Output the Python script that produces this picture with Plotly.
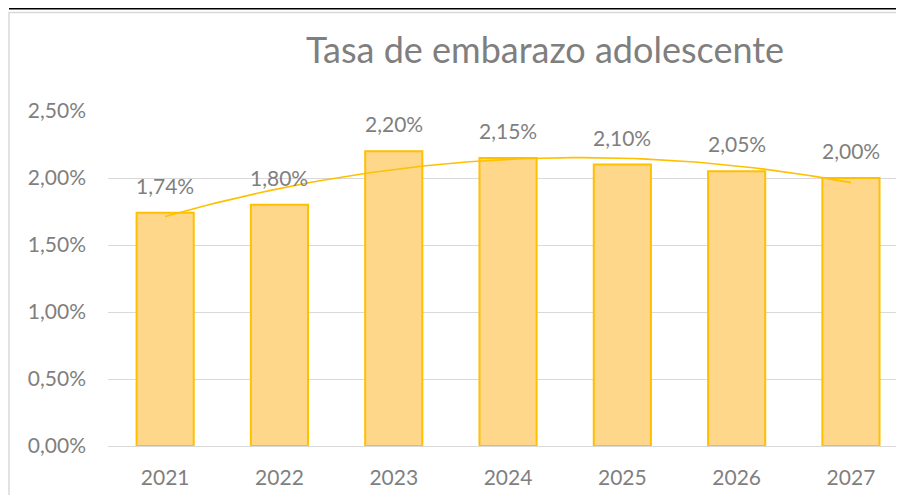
import numpy as np
import plotly.graph_objects as go

# data
years = ["2021", "2022", "2023", "2024", "2025", "2026", "2027"]
rates = [0.0174, 0.0180, 0.0220, 0.0215, 0.0210, 0.0205, 0.0200]
y_ticks = [0, 0.005, 0.010, 0.015, 0.020, 0.025]

GOLD = "#FFC000"
BAR_FILL = "#FED78A"
GREY_TXT = "#7F7F7F"
GRID = "#D9D9D9"
FONT = "Lato"

idx = np.arange(len(years))

# polynomial (order 2) trendline, same as the Excel one
coef = np.polyfit(idx, rates, 2)
xs = np.linspace(0, len(years) - 1, 80)
trend = np.polyval(coef, xs)

# the page body has an 8px margin, so the figure sits at (8, 8)
OFF = 8
W, H = 904 - OFF, 503 - 2 * OFF
L = 108 - OFF
T = 111 - OFF
B = H - (446 - OFF)
plot_w = W - L
plot_h = H - T - B

fig = go.Figure()

fig.add_trace(go.Bar(
    x=idx,
    y=rates,
    width=0.5,
    marker=dict(color=BAR_FILL, line=dict(color=GOLD, width=2)),
    hoverinfo="skip",
))

fig.add_trace(go.Scatter(
    x=xs,
    y=trend,
    mode="lines",
    line=dict(color=GOLD, width=1.6),
    hoverinfo="skip",
))

# data labels above each bar
annotations = []
for i, v in zip(idx, rates):
    annotations.append(dict(
        x=i, y=v, xref="x", yref="y",
        text=f"{v * 100:.2f}%".replace(".", ","),
        showarrow=False, yanchor="bottom", yshift=13,
        font=dict(family=FONT, size=21, color=GREY_TXT),
    ))


def px_x(p):
    # reference pixel -> paper x
    return (p - OFF - L) / plot_w


def px_y(p):
    # reference pixel -> paper y
    return (H - B - (p - OFF)) / plot_h


shapes = [
    # chart area border (light grey)
    dict(type="line", xref="paper", yref="paper",
         x0=px_x(9), x1=px_x(9), y0=px_y(12), y1=px_y(510),
         line=dict(color=GRID, width=1.5)),
    dict(type="line", xref="paper", yref="paper",
         x0=px_x(9), x1=px_x(910), y0=px_y(12.5), y1=px_y(12.5),
         line=dict(color=GRID, width=1.5)),
    # black rule at the very top
    dict(type="line", xref="paper", yref="paper",
         x0=px_x(9), x1=px_x(910), y0=px_y(8.5), y1=px_y(8.5),
         line=dict(color="black", width=2)),
]

# the plot area runs past the right edge of the picture
step = 114.3
xmax = -0.5 + plot_w / step

fig.update_layout(
    width=W, height=H,
    margin=dict(l=L, r=0, t=T, b=B),
    paper_bgcolor="white",
    plot_bgcolor="white",
    showlegend=False,
    separators=",.",
    title=dict(
        text="Tasa de embarazo adolescente",
        x=(545 - OFF) / W, xanchor="center",
        y=1 - (50 - OFF) / H, yanchor="middle",
        font=dict(family=FONT, size=36, color=GREY_TXT),
    ),
    xaxis=dict(
        range=[-0.5, xmax],
        tickvals=list(idx),
        ticktext=years,
        showgrid=False,
        zeroline=False,
        showline=False,
        ticks="",
        ticklabelstandoff=17,
        tickfont=dict(family=FONT, size=21, color=GREY_TXT),
    ),
    yaxis=dict(
        range=[0, 0.025],
        tickvals=y_ticks,
        tickformat=".2%",
        showgrid=True,
        gridcolor=GRID,
        gridwidth=1.2,
        zeroline=True,
        zerolinecolor=GRID,
        zerolinewidth=1.2,
        showline=False,
        ticks="",
        ticklabelstandoff=21,
        tickfont=dict(family=FONT, size=21, color=GREY_TXT),
    ),
    annotations=annotations,
    shapes=shapes,
)

fig.write_html("out.html")
